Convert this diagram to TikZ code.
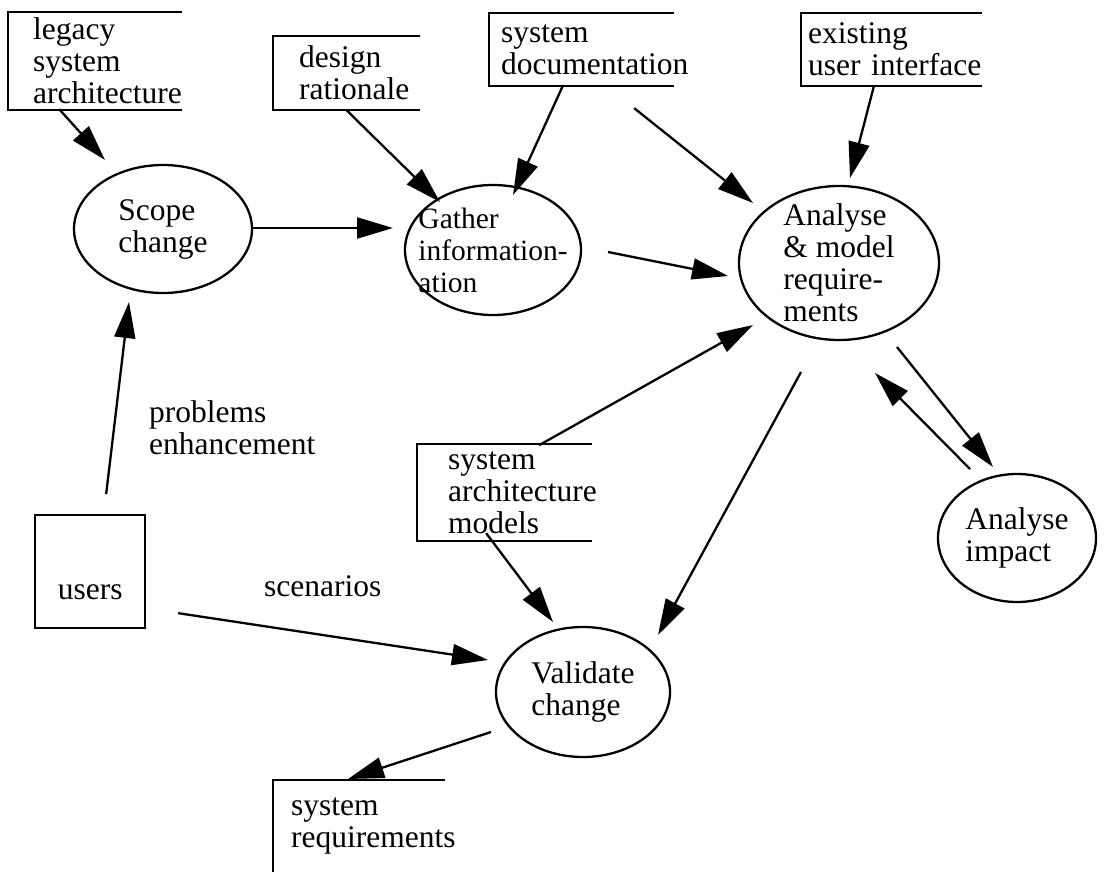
\documentclass[tikz,border=0pt]{standalone}
\usepackage{fontspec}
\setmainfont{Liberation Serif}
\usetikzlibrary{arrows.meta,shapes.geometric}
\begin{document}
\begin{tikzpicture}[x=1pt,y=-1pt,
  font=\fontsize{31.5}{32}\selectfont,
  line width=2.3pt,
  arr/.style={-{Triangle[length=36pt,width=21pt]}},
  proc/.style={ellipse,draw,inner sep=0pt},
  ptext/.style={label={[inner sep=0pt,align=left]center:#1}},
  ptextsmall/.style={label={[inner sep=0pt,align=left,font=\fontsize{29.5}{32}\selectfont]center:#1}},
  store/.style={rectangle,inner ysep=0pt,align=left,anchor=north west,
    execute at begin node={\hfuzz=1000pt\hbadness=10000\hyphenpenalty=10000}},
  storeline/.style={line join=miter},
  lbl/.style={inner sep=0pt,align=left}]
\useasboundingbox (0,0) rectangle (1109,872);
\coordinate (bottomedge) at (0,872);
% processes
\node[proc, minimum width=178pt, minimum height=128pt, ptext={Scope\\change}] (scope) at (163,229) {};
\node[proc, minimum width=176pt, minimum height=130pt, ptextsmall={Gather\\information-\\ation}] (gather) at (493,250) {};
\node[proc, minimum width=200pt, minimum height=154pt, ptext={Analyse\\\&~model\\require-\\ments}] (analyse) at (839,263) {};
\node[proc, minimum width=158pt, minimum height=128pt, ptext={Analyse\\impact}] (impact) at (1017,538) {};
\node[proc, minimum width=174pt, minimum height=130pt, ptext={Validate\\change}] (validate) at (583,692) {};
% stores
\node[store, minimum width=172pt, minimum height=96pt, inner xsep=24pt, text width=124pt] (legacy) at (8,12) {legacy\\system\\architecture};
\node[store, minimum width=145pt, minimum height=72pt, inner xsep=25pt, text width=95pt] (design) at (273,36) {design\\rationale};
\node[store, minimum width=183pt, minimum height=71pt, inner xsep=11pt, text width=161pt] (sysdoc) at (489,13) {system\\documentation};
\node[store, minimum width=179pt, minimum height=71pt, inner xsep=6pt, text width=167pt] (existui) at (801,13) {existing\\\mbox{user interface}};
\node[store, minimum width=173pt, minimum height=95pt, inner xsep=30pt, text width=113pt] (sam) at (417,444) {system\\architecture\\models};
\node[store, minimum width=170pt, minimum height=90pt, inner xsep=17pt, text width=136pt] (sysreq) at (273,780) {system\\requirements};
\foreach \n in {legacy,design,sysdoc,existui,sam}
  \draw[storeline] (\n.north east) -- (\n.north west) -- (\n.south west) -- (\n.south east);
\draw[storeline] (sysreq.north east) -- (sysreq.north west) -- (sysreq.north west |- bottomedge);
% external entity
\node[draw, rectangle, inner sep=0pt, minimum width=110pt, text height=84pt, text depth=29pt, anchor=north west] (users) at (34,514) {users};
% labels
\node[lbl, anchor=base west] (lblprob) at (148,454) {problems\\enhancement};
\node[lbl, anchor=base west] (lblscen) at (263,596) {scenarios};
% connectors
\draw[arr] ([shift={(-36,48)}]legacy.center) -- ([shift={(-58,-69)}]scope.center);
\draw[arr] ([shift={(89,-1)}]scope.center) -- ([shift={(-100,-22)}]gather.center);
\draw[arr] (design.south) -- ([shift={(-53,-48)}]gather.center);
\draw[arr] ([shift={(-18.5,35.5)}]sysdoc.center) -- ([shift={(20,-55)}]gather.center);
\draw[arr] ([shift={(52.5,58.5)}]sysdoc.center) -- ([shift={(-86,-60)}]analyse.center);
\draw[arr] ([shift={(-17.5,35.5)}]existui.center) -- ([shift={(11,-85)}]analyse.center);
\draw[arr] ([shift={(115,2)}]gather.center) -- ([shift={(-111,13)}]analyse.center);
\draw[arr] ([shift={(34.5,-47.5)}]sam.center) -- ([shift={(-86,62)}]analyse.center);
\draw[arr] ([shift={(-38,109)}]analyse.center) -- ([shift={(75,-57)}]validate.center);
\draw[arr] ([shift={(58,84)}]analyse.center) -- ([shift={(-24,-71)}]impact.center);
\draw[arr] ([shift={(-47,-69)}]impact.center) -- ([shift={(36,110)}]analyse.center);
\draw[arr] ([shift={(16,-77.5)}]users.center) -- ([shift={(-34,73)}]scope.center);
\draw[arr] ([shift={(88,41.5)}]users.center) -- ([shift={(-95,-32)}]validate.center);
\draw[arr] ([shift={(-18.5,40.5)}]sam.center) -- ([shift={(-30,-70)}]validate.center);
\draw[arr] ([shift={(-92,40)}]validate.center) -- ([shift={(75,-1)}]sysreq.north west);
\end{tikzpicture}
\end{document}
